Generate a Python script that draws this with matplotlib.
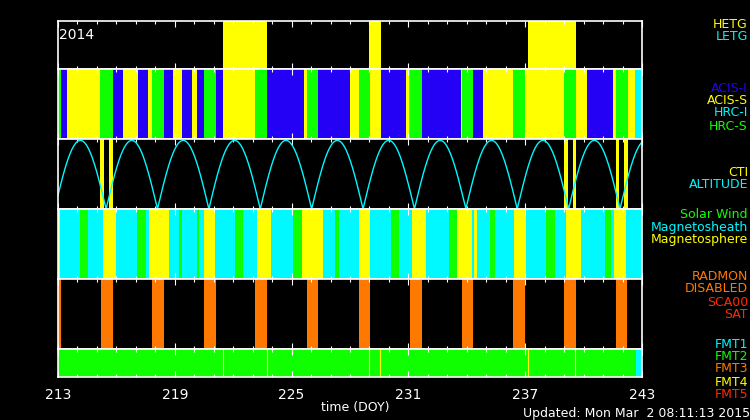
import numpy as np
import matplotlib
matplotlib.use("Agg")
import matplotlib.pyplot as plt

Y, B, G, C, O, R = "#ffff00", "#2400f4", "#10ff00", "#00f8ff", "#ff7800", "#ff2a00"

# Grating (HETG) intervals
hetg = [(221.48, 223.72), (228.98, 229.60), (237.14, 239.61)]

# Instrument intervals: edges and colours
inst_edges = [213.00, 213.15, 213.46, 215.16, 215.83, 216.34, 217.11, 217.62, 217.83, 218.45,
              218.91, 219.37, 219.88, 220.14, 220.50, 221.12, 221.48, 223.12, 223.74, 225.64,
              225.79, 226.36, 228.00, 228.46, 229.03, 229.59, 230.88, 231.03, 231.08, 231.70,
              233.70, 233.75, 234.32, 234.83, 236.37, 236.99, 238.99, 239.61, 240.17, 241.51,
              241.66, 242.28, 242.64, 243.00]
inst_cols = ["G", "B", "Y", "G", "B", "Y", "B", "Y", "G", "B",
             "Y", "B", "Y", "B", "G", "B", "Y", "G", "B", "Y",
             "G", "B", "Y", "G", "Y", "B", "Y", "C", "G", "B",
             "Y", "G", "B", "Y", "G", "Y", "G", "Y", "B", "Y",
             "G", "Y", "C"]

# Altitude: perigee times (DOY) and CTI intervals
perigees = [215.47, 218.14, 220.81, 223.43, 226.10, 228.72, 231.29, 233.91, 236.58, 239.25, 241.87]
cti = [(215.16, 215.36), (215.62, 215.83), (238.99, 239.20), (239.46, 239.61), (241.66, 241.82), (242.07, 242.28)]

# Radiation zone
rz_edges = [213.00, 213.10, 214.13, 214.54, 215.31, 215.98, 217.06, 217.52, 217.67, 218.70,
            219.22, 219.37, 220.14, 220.24, 220.50, 221.07, 222.09, 222.50, 223.22, 223.94,
            225.07, 225.53, 226.61, 227.23, 227.43, 228.46, 229.03, 230.11, 230.52, 231.19,
            231.90, 233.09, 233.50, 234.27, 234.37, 234.52, 235.19, 235.45, 236.42, 237.04,
            238.07, 238.53, 239.10, 239.87, 241.10, 241.41, 241.56, 242.18, 243.00]
rz_cols = ["Y", "C", "G", "C", "Y", "C", "G", "C", "Y", "C",
           "G", "C", "G", "C", "Y", "C", "G", "C", "Y", "C",
           "G", "Y", "C", "G", "C", "Y", "C", "G", "C", "Y",
           "C", "G", "Y", "C", "Y", "C", "G", "C", "Y", "C",
           "G", "C", "Y", "C", "G", "C", "Y", "C"]

# RADMON disabled
radmon = [(213.00, 213.15), (215.21, 215.83), (217.83, 218.45), (220.50, 221.12), (223.12, 223.74),
          (225.79, 226.36), (228.46, 229.03), (231.08, 231.70), (233.75, 234.32), (236.37, 236.99),
          (238.99, 239.61), (241.66, 242.23)]

# Format
fmt_lines = [221.48, 223.74, 228.98, 229.54, 237.14, 239.56]
fmt1 = [(242.69, 242.95)]

cmap = dict(Y=Y, B=B, G=G, C=C)
xt = [213, 219, 225, 231, 237, 243]

fig = plt.figure(figsize=(7.5, 4.2), dpi=100, facecolor="black")
W, H = 750.0, 420.0
x0, x1 = 58, 642
panels = [(21, 69), (69, 139), (139, 209), (209, 279), (279, 349), (349, 377)]
axes = []
for (t, b) in panels:
    ax = fig.add_axes([x0 / W, 1 - b / H, (x1 - x0) / W, (b - t) / H])
    ax.set_facecolor("black")
    ax.set_xlim(213, 243)
    ax.set_ylim(0, 1)
    for s in ax.spines.values():
        s.set_color("white")
        s.set_linewidth(1.2)
    ax.set_yticks([])
    ax.set_xticks(xt)
    ax.set_xticks(np.arange(213, 244, 1), minor=True)
    ax.tick_params(axis="x", which="both", direction="in", colors="white", top=True, bottom=True,
                   labelbottom=False, width=0.8)
    ax.tick_params(axis="x", which="major", length=4)
    ax.tick_params(axis="x", which="minor", length=2)
    axes.append(ax)

a0, a1, a2, a3, a4, a5 = axes
for s, e in hetg:
    a0.axvspan(s, e, color=Y, lw=0)
a0.text(213.05, 0.7, "2014", color="white", fontsize=10, va="center")

for i, c in enumerate(inst_cols):
    a1.axvspan(inst_edges[i], inst_edges[i + 1], color=cmap[c], lw=0)

for s, e in cti:
    a2.axvspan(s, e, color=Y, lw=0)
t = np.linspace(213, 243, 1500)
per = np.array(perigees)
P = np.mean(np.diff(per))
alt = np.abs(np.sin(np.pi * (t - per[0]) / P))
a2.plot(t, alt * 0.98, color=C, lw=1)

for i, c in enumerate(rz_cols):
    a3.axvspan(rz_edges[i], rz_edges[i + 1], color=cmap[c], lw=0)

for s, e in radmon:
    a4.axvspan(s, e, color=O, lw=0)

a5.axvspan(213, 243, color=G, lw=0)
for x in fmt_lines:
    a5.axvline(x, color=Y, lw=0.8)
for s, e in fmt1:
    a5.axvspan(s, e, color=C, lw=0)
a5.tick_params(axis="x", which="major", labelbottom=True, labelsize=10, pad=8, labelcolor="white")

def lab(y, s, c):
    fig.text(748 / W, 1 - y / H, s, color=c, fontsize=9, ha="right", va="center")

for y, s, c in [(24, "HETG", Y), (37, "LETG", C),
                (88, "ACIS-I", B), (100, "ACIS-S", Y), (113, "HRC-I", C), (126, "HRC-S", G),
                (172, "CTI", Y), (184, "ALTITUDE", C),
                (214, "Solar Wind", G), (227, "Magnetosheath", C), (240, "Magnetosphere", Y),
                (277, "RADMON", O), (289, "DISABLED", O), (302, "SCA00", R), (314, "SAT", R),
                (344, "FMT1", C), (356, "FMT2", G), (369, "FMT3", O), (382, "FMT4", Y), (394, "FMT5", R)]:
    lab(y, s, c)

fig.text(355 / W, 1 - 407 / H, "time (DOY)", color="white", fontsize=9, ha="center", va="center")
fig.text(750 / W, 1 - 413 / H, "Updated: Mon Mar  2 08:11:13 2015", color="white", fontsize=9,
         ha="right", va="center")

fig.savefig("out.png", dpi=100, facecolor="black")
